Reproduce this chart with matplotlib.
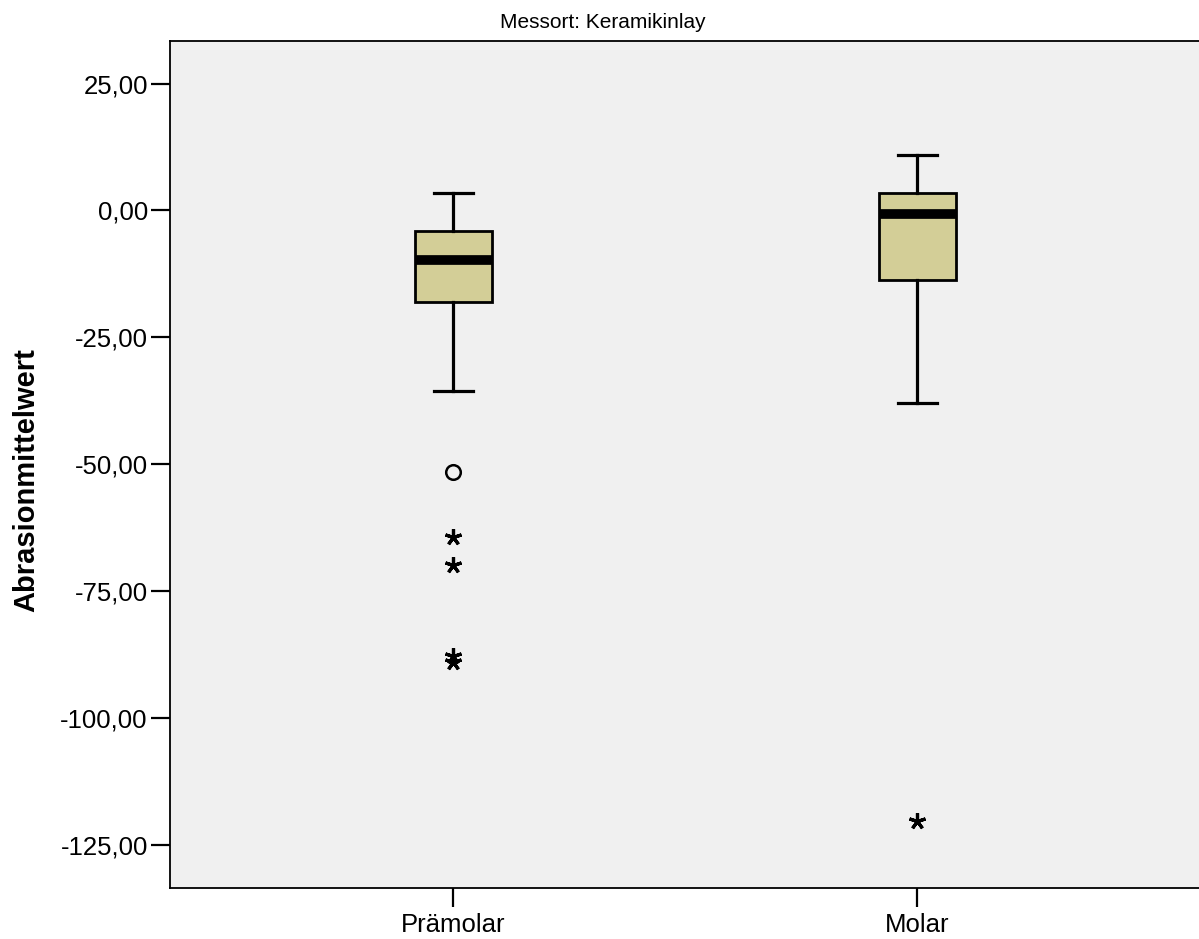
import matplotlib
matplotlib.use("Agg")
from matplotlib import pyplot as plt
from matplotlib.ticker import FuncFormatter

plt.rcParams['font.family'] = ['Liberation Sans', 'DejaVu Sans']

# Werte
gruppen = ['Prämolar', 'Molar']
median = [-9.68, -0.63]
q1 = [-18.0, -13.74]
q3 = [-3.98, 3.39]
whisker_unten = [-35.5, -37.95]
whisker_oben = [3.44, 10.87]
ausreisser = [[-51.5], []]          # Kreise
extremwerte = [[-64.2, -69.8, -87.8, -89.0], [-120.3]]  # Sterne
yticks = [25, 0, -25, -50, -75, -100, -125]

W, H = 1199, 939
fig = plt.figure(figsize=(W / 100, H / 100), dpi=100)
ax = fig.add_axes([170 / W, 1 - 888 / H, 1 - 170 / W, (888 - 41) / H])
ax.set_facecolor('#f0f0f0')

stats = []
for i in range(len(gruppen)):
    stats.append({'med': median[i], 'q1': q1[i], 'q3': q3[i],
                  'whislo': whisker_unten[i], 'whishi': whisker_oben[i],
                  'fliers': []})

pos = [1, 2]
ax.bxp(stats, positions=pos, widths=0.166, capwidths=0.084, patch_artist=True,
       showfliers=False,
       boxprops=dict(facecolor='#d3ce97', edgecolor='black', linewidth=2),
       medianprops=dict(color='black', linewidth=7, solid_capstyle='butt'),
       whiskerprops=dict(color='black', linewidth=2.3),
       capprops=dict(color='black', linewidth=2.3))

for p, werte in zip(pos, ausreisser):
    if werte:
        ax.plot([p] * len(werte), werte, linestyle='none', marker='o', markersize=10.5,
                markerfacecolor='none', markeredgecolor='black', markeredgewidth=1.8)
for p, werte in zip(pos, extremwerte):
    if werte:
        ax.plot([p] * len(werte), werte, linestyle='none', marker=(5, 2, 0), markersize=12,
                color='black', markeredgewidth=2.3)

ax.set_xlim(0.3894, 2.607)
ax.set_ylim(-133.4, 33.37)
ax.set_yticks(yticks)
ax.yaxis.set_major_formatter(FuncFormatter(lambda v, _: f'{v:.2f}'.replace('.', ',')))
ax.set_xticks(pos)
ax.set_xticklabels(gruppen)
ax.tick_params(axis='both', labelsize=18.5, length=14, width=1.6, pad=2)
ax.tick_params(axis='x', pad=4)
ax.spines['right'].set_visible(False)
for s in ['left', 'top', 'bottom']:
    ax.spines[s].set_linewidth(1.3)

fig.text(603 / W, 1 - 22 / H, 'Messort: Keramikinlay', ha='center', va='center', fontsize=15)
fig.text(26 / W, 1 - 480 / H, 'Abrasionmittelwert', rotation=90, ha='center', va='center',
         fontsize=21, fontweight='bold')

fig.savefig('out.png', dpi=100)
